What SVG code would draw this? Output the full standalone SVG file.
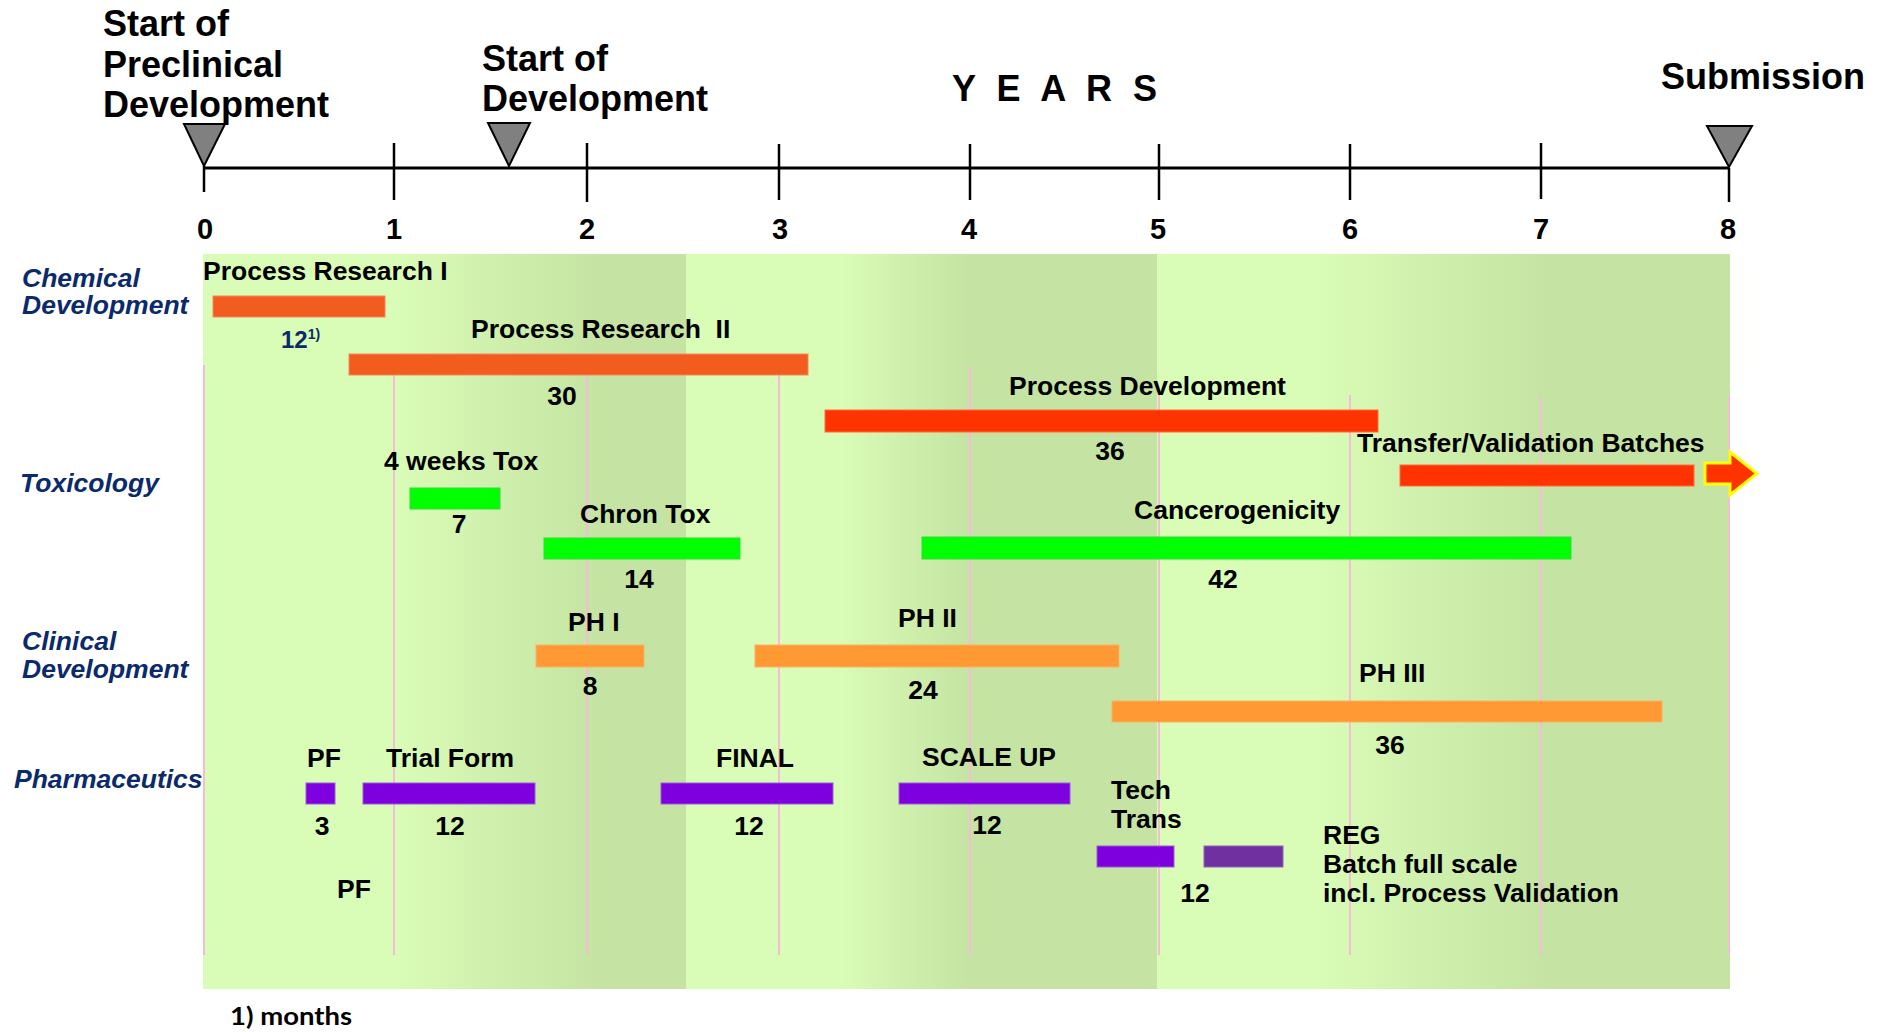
<svg xmlns="http://www.w3.org/2000/svg" width="1886" height="1032" viewBox="0 0 1886 1032">
<defs>
<linearGradient id="gA" x1="0" y1="0" x2="1" y2="0"><stop offset="0.4" stop-color="#d9fcb6"/><stop offset="0.82" stop-color="#c5e4a3"/></linearGradient>
<linearGradient id="gB" x1="0" y1="0" x2="1" y2="0"><stop offset="0.33" stop-color="#d9fcb6"/><stop offset="0.6" stop-color="#c5e4a3"/></linearGradient>
<linearGradient id="gC" x1="0" y1="0" x2="1" y2="0"><stop offset="0.28" stop-color="#d9fcb6"/><stop offset="0.68" stop-color="#c5e4a3"/></linearGradient>
<style>
.t{font-family:"Liberation Sans",Arial,sans-serif;font-weight:bold;fill:#000}
.h{font-size:36px}
.n{font-size:29px;text-anchor:middle}
.l{font-size:26.5px}
.c{text-anchor:middle}
.cat{font-family:"Liberation Sans",Arial,sans-serif;font-weight:bold;font-style:italic;font-size:26.5px;fill:#0b2a6b}
.grid{stroke:#f4bcd6;stroke-width:2}
.tick{stroke:#000;stroke-width:2.5}
.tri{fill:#808080;stroke:#000;stroke-width:2}
.pr{fill:#f25c1f;stroke:#f7875a;stroke-width:1}
.rd{fill:#ff3300;stroke:#ff6a40;stroke-width:1}
.gr{fill:#00ff00;stroke:#33dd33;stroke-width:1}
.ph{fill:#ff9933;stroke:#ffb060;stroke-width:1}
.pu{fill:#7f00df;stroke:#9a5ad8;stroke-width:1}
.rg{fill:#7030a0;stroke:#9060c0;stroke-width:1}
</style>
</defs>
<rect width="1886" height="1032" fill="#ffffff"/>
<g id="background">
<rect x="203" y="254" width="483" height="735" fill="url(#gA)"/>
<rect x="686" y="254" width="471" height="735" fill="url(#gB)"/>
<rect x="1157" y="254" width="573" height="735" fill="url(#gC)"/>
<line class="grid" x1="204" y1="365" x2="204" y2="955"/>
<line class="grid" x1="394" y1="365" x2="394" y2="955"/>
<line class="grid" x1="587" y1="365" x2="587" y2="955"/>
<line class="grid" x1="779" y1="365" x2="779" y2="955"/>
<line class="grid" x1="970" y1="366" x2="970" y2="955"/>
<line class="grid" x1="1159" y1="395" x2="1159" y2="955"/>
<line class="grid" x1="1350" y1="395" x2="1350" y2="955"/>
<line class="grid" x1="1541" y1="397" x2="1541" y2="955"/>
<line class="grid" x1="1729" y1="395" x2="1729" y2="955"/>
</g>
<g id="timeline">
<line x1="204" y1="168" x2="1729" y2="168" stroke="#000" stroke-width="3"/>
<line class="tick" x1="204" y1="166" x2="204" y2="192"/>
<line class="tick" x1="394" y1="143" x2="394" y2="200"/>
<line class="tick" x1="587" y1="143" x2="587" y2="202"/>
<line class="tick" x1="779" y1="144" x2="779" y2="200"/>
<line class="tick" x1="970" y1="144" x2="970" y2="200"/>
<line class="tick" x1="1159" y1="144" x2="1159" y2="200"/>
<line class="tick" x1="1350" y1="144" x2="1350" y2="200"/>
<line class="tick" x1="1541" y1="143" x2="1541" y2="199"/>
<line class="tick" x1="1729" y1="168" x2="1729" y2="202"/>
<text class="t n" x="205" y="239">0</text>
<text class="t n" x="394" y="239">1</text>
<text class="t n" x="587" y="239">2</text>
<text class="t n" x="780" y="239">3</text>
<text class="t n" x="969" y="239">4</text>
<text class="t n" x="1158" y="239">5</text>
<text class="t n" x="1350" y="239">6</text>
<text class="t n" x="1541" y="239">7</text>
<text class="t n" x="1728" y="239">8</text>
<text class="t h" x="952" y="101" textLength="205" lengthAdjust="spacing">Y E A R S</text>
</g>
<g id="milestone-preclinical">
<polygon class="tri" points="184,124 225,124 204,166"/>
<text class="t h" x="103" y="36">Start of</text>
<text class="t h" x="103" y="77">Preclinical</text>
<text class="t h" x="103" y="117">Development</text>
</g>
<g id="milestone-development">
<polygon class="tri" points="488,123 530,123 509,166"/>
<text class="t h" x="482" y="71">Start of</text>
<text class="t h" x="482" y="111">Development</text>
</g>
<g id="milestone-submission">
<polygon class="tri" points="1707,126 1752,126 1729,167"/>
<text class="t h" x="1661" y="89">Submission</text>
</g>
<g id="categories">
<text class="cat" x="22" y="287">Chemical</text>
<text class="cat" x="22" y="314">Development</text>
<text class="cat" x="20" y="492">Toxicology</text>
<text class="cat" x="22" y="650">Clinical</text>
<text class="cat" x="22" y="678">Development</text>
<text class="cat" x="14" y="788">Pharmaceutics</text>
</g>
<g id="process-research-1">
<rect class="pr" x="213" y="296" width="172" height="21"/>
<text class="t l" x="203" y="280">Process Research I</text>
<text class="t" x="281" y="348" font-size="24" style="fill:#0b2a6b">12<tspan font-size="14" dy="-9">1)</tspan></text>
</g>
<g id="process-research-2">
<rect class="pr" x="349" y="354" width="459" height="21"/>
<text class="t l" x="471" y="338" xml:space="preserve">Process Research  II</text>
<text class="t l c" x="562" y="405">30</text>
</g>
<g id="process-development">
<rect class="rd" x="825" y="410" width="553" height="22"/>
<text class="t l" x="1009" y="395">Process Development</text>
<text class="t l c" x="1110" y="460">36</text>
</g>
<g id="transfer-validation">
<rect class="rd" x="1400" y="465" width="294" height="21"/>
<path d="M1705,463 L1730,463 L1730,452 L1757,473.5 L1730,495 L1730,484 L1705,484 Z" fill="#ff3300" stroke="#ffff00" stroke-width="3" stroke-linejoin="miter"/>
<text class="t l" x="1357" y="452">Transfer/Validation Batches</text>
</g>
<g id="tox-4-weeks">
<rect class="gr" x="410" y="488" width="90" height="21"/>
<text class="t l" x="384" y="470">4 weeks Tox</text>
<text class="t l c" x="459" y="533">7</text>
</g>
<g id="chron-tox">
<rect class="gr" x="544" y="538" width="196" height="21"/>
<text class="t l" x="580" y="523">Chron Tox</text>
<text class="t l c" x="639" y="588">14</text>
</g>
<g id="cancerogenicity">
<rect class="gr" x="922" y="537" width="649" height="22"/>
<text class="t l" x="1134" y="519">Cancerogenicity</text>
<text class="t l c" x="1223" y="588">42</text>
</g>
<g id="phase-1">
<rect class="ph" x="536" y="645" width="108" height="22"/>
<text class="t l" x="568" y="631">PH I</text>
<text class="t l c" x="590" y="695">8</text>
</g>
<g id="phase-2">
<rect class="ph" x="755" y="645" width="364" height="22"/>
<text class="t l" x="898" y="627">PH II</text>
<text class="t l c" x="923" y="699">24</text>
</g>
<g id="phase-3">
<rect class="ph" x="1112" y="701" width="550" height="21"/>
<text class="t l" x="1359" y="682">PH III</text>
<text class="t l c" x="1390" y="754">36</text>
</g>
<g id="pf">
<rect class="pu" x="306" y="783" width="29" height="21"/>
<text class="t l" x="307" y="767">PF</text>
<text class="t l c" x="322" y="835">3</text>
</g>
<g id="trial-form">
<rect class="pu" x="363" y="783" width="172" height="21"/>
<text class="t l" x="386" y="767">Trial Form</text>
<text class="t l c" x="450" y="835">12</text>
</g>
<g id="final">
<rect class="pu" x="661" y="783" width="172" height="21"/>
<text class="t l" x="716" y="767">FINAL</text>
<text class="t l c" x="749" y="835">12</text>
</g>
<g id="scale-up">
<rect class="pu" x="899" y="783" width="171" height="21"/>
<text class="t l" x="922" y="766">SCALE UP</text>
<text class="t l c" x="987" y="834">12</text>
</g>
<g id="tech-trans">
<rect class="pu" x="1097" y="846" width="77" height="21"/>
<text class="t l" x="1111" y="799">Tech</text>
<text class="t l" x="1111" y="828">Trans</text>
<text class="t l c" x="1195" y="902">12</text>
</g>
<g id="reg-batch">
<rect class="rg" x="1204" y="846" width="79" height="21"/>
<text class="t l" x="1323" y="844">REG</text>
<text class="t l" x="1323" y="873">Batch full scale</text>
<text class="t l" x="1323" y="902">incl. Process Validation</text>
</g>
<g id="pf-label">
<text class="t l" x="337" y="898">PF</text>
</g>
<g id="footnote">
<text x="230" y="1025" font-family="Lato,'Liberation Sans',sans-serif" font-weight="bold" font-size="24" textLength="122" lengthAdjust="spacingAndGlyphs">1) months</text>
</g>
</svg>
